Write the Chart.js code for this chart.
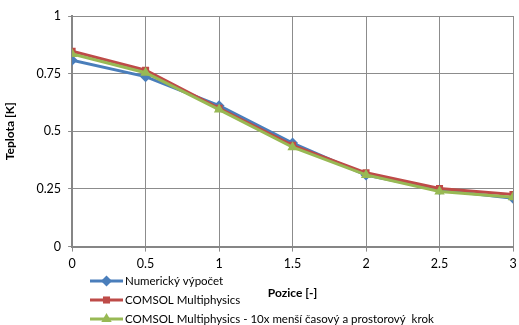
<!DOCTYPE html>
<html>
<head>
<meta charset="utf-8">
<script src="https://cdn.jsdelivr.net/npm/chart.js@4.4.1/dist/chart.umd.min.js"></script>
<style>
  html, body { margin: 0; padding: 0; background: #fff; }
  #wrap { width: 519px; height: 325px; position: relative; }
</style>
</head>
<body>
<div id="wrap"><canvas id="chart"></canvas></div>
<script>
// data
const positions = [0, 0.5, 1, 1.5, 2, 2.5, 3];
const numericValues = [0.808, 0.737, 0.611, 0.449, 0.310, 0.246, 0.210];
const comsolValues = [0.847, 0.765, 0.600, 0.439, 0.320, 0.252, 0.226];
const comsolFineValues = [0.835, 0.754, 0.594, 0.431, 0.311, 0.239, 0.214];
const seriesNames = [
    'Numerický výpočet',
    'COMSOL Multiphysics',
    'COMSOL Multiphysics - 10x menší časový a prostorový  krok'
];
const xStep = 0.5;
const yStep = 0.25;

const FONT = 'Lato, "Open Sans", sans-serif';
const toPoints = (vals) => vals.map((v, i) => ({ x: positions[i], y: v }));
const plainLabel = (v) => String(v);

const makeSet = (label, vals, color, style, radius, order) => ({
    label: label,
    data: toPoints(vals),
    borderColor: color,
    backgroundColor: color,
    borderWidth: 3,
    pointStyle: style,
    pointRadius: radius,
    pointHoverRadius: radius,
    pointBorderWidth: 0,
    tension: 0,
    order: order
});

// simple legend: line + marker per series, stacked rows under the axis
const rowLegend = {
    id: 'rowLegend',
    afterDraw(chart) {
        const ctx = chart.ctx;
        const x0 = 90, x1 = 123;
        let y = 281;
        ctx.save();
        chart.data.datasets.forEach(ds => {
            ctx.strokeStyle = ds.borderColor;
            ctx.lineWidth = 3;
            ctx.beginPath();
            ctx.moveTo(x0, y);
            ctx.lineTo(x1, y);
            ctx.stroke();
            ctx.fillStyle = ds.backgroundColor;
            Chart.helpers.drawPoint(ctx, {
                pointStyle: ds.pointStyle,
                radius: ds.pointRadius,
                rotation: 0,
                borderWidth: 0
            }, (x0 + x1) / 2, y);
            ctx.fillStyle = '#000';
            ctx.font = '11.5px ' + FONT;
            ctx.textBaseline = 'middle';
            ctx.textAlign = 'left';
            ctx.fillText(ds.label, x1 + 2, y);
            y += 19;
        });
        ctx.restore();
    }
};

new Chart(document.getElementById('chart'), {
    type: 'line',
    data: {
        datasets: [
            makeSet(seriesNames[0], numericValues, '#4a7ebb', 'rectRot', 5.5, 2),
            makeSet(seriesNames[1], comsolValues, '#be4b48', 'rect', 5, 1),
            makeSet(seriesNames[2], comsolFineValues, '#98b954', 'triangle', 6, 0)
        ]
    },
    options: {
        responsive: true,
        maintainAspectRatio: false,
        animation: false,
        layout: { padding: { top: 16, right: -3, bottom: 25, left: 3 } },
        plugins: {
            legend: { display: false },
            tooltip: { enabled: false }
        },
        scales: {
            x: {
                type: 'linear',
                min: 0,
                max: 3,
                // let the last label ("3") run past the edge like the original
                afterFit: (scale) => { scale.paddingRight = 0; },
                ticks: {
                    stepSize: xStep,
                    callback: plainLabel,
                    color: '#000',
                    font: { family: FONT, size: 12.5 },
                    padding: 5,
                    maxRotation: 0
                },
                grid: { color: '#8c8c8c', lineWidth: 1, tickLength: 5 },
                border: { color: '#868686', width: 2 },
                title: {
                    display: true,
                    text: 'Pozice [-]',
                    color: '#000',
                    font: { family: FONT, size: 12, weight: 'bold' },
                    padding: { top: 9, bottom: 0 }
                }
            },
            y: {
                min: 0,
                max: 1,
                ticks: {
                    stepSize: yStep,
                    callback: plainLabel,
                    color: '#000',
                    font: { family: FONT, size: 12.5 },
                    padding: 7
                },
                grid: { color: '#8c8c8c', lineWidth: 1, tickLength: 4 },
                border: { color: '#868686', width: 2 },
                title: {
                    display: true,
                    text: 'Teplota [K]',
                    color: '#000',
                    font: { family: FONT, size: 12, weight: 'bold' },
                    padding: { top: 0, bottom: 12 }
                }
            }
        }
    },
    plugins: [rowLegend]
});
</script>
</body>
</html>
